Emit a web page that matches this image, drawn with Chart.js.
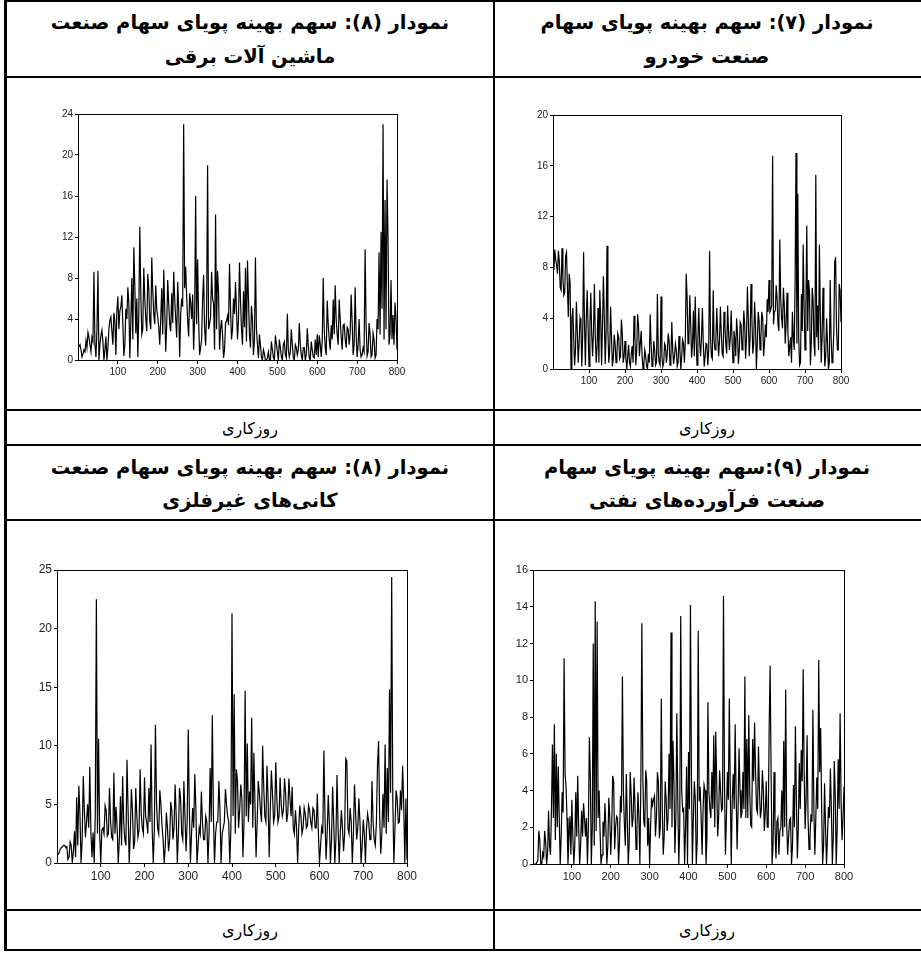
<!DOCTYPE html>
<html>
<head>
<meta charset="utf-8">
<script src="https://cdn.jsdelivr.net/npm/chart.js@4.4.1/dist/chart.umd.min.js"></script>
<style>
  html, body { margin:0; padding:0; background:#fff; }
  #page { position:relative; width:921px; height:956px; overflow:hidden; background:#fff; }
  .hl { position:absolute; left:5px; width:916px; height:2px; background:#000; }
  .vl { position:absolute; width:2px; background:#000; }
  .ttl { position:absolute; direction:rtl; text-align:center; font-family:"DejaVu Sans", sans-serif; font-weight:bold; color:#000; white-space:nowrap; transform:translate(-50%,-50%); }
  .rz { position:absolute; direction:rtl; text-align:center; font-family:"DejaVu Sans", sans-serif; font-size:16px; color:#000; white-space:nowrap; transform:translate(-50%,-50%); }
  canvas { position:absolute; }
</style>
</head>
<body>
<div id="page"></div>
<script>
// ---------------- data ----------------
const titlesTop = ["نمودار (۸): سهم بهینه پویای سهام صنعت", "نمودار (۷): سهم بهینه پویای سهام"];
const subTitlesTop = ["ماشین آلات برقی", "صنعت خودرو"];
const titlesBottom = ["نمودار (۸): سهم بهینه پویای سهام صنعت", "نمودار (۹):سهم بهینه پویای سهام"];
const subTitlesBottom = ["کانی‌های غیرفلزی", "صنعت فرآورده‌های نفتی"];
const axisCaption = "روزکاری";

const xTickLabels = [100, 200, 300, 400, 500, 600, 700, 800];
// working day index of each reading (every 2.5 days, 320 readings)
const days = Array.from({length: 320}, (_, i) => (i + 1) * 2.5);

// ماشین آلات برقی
const seriesMachinery = [
 1.3,1.5, 1.0,0.3, 0.6,1.0, 0.8,1.9, 1.2,2.7, 2.2,1.5, 0.8,2.2, 1.8,8.6, 1.5,0.3, 2.9,8.7,
 0.0,1.5, 2.4,2.9, 1.8,0.0, 1.0,2.3, 0.0,1.2, 3.0,3.9, 4.2,2.8, 1.5,4.6, 3.8,0.5, 4.8,6.2,
 3.0,4.8, 5.2,6.3, 3.5,0.4, 1.5,5.0, 4.0,7.1, 5.5,0.2, 3.9,8.0, 2.0,11.0, 7.3,2.6, 6.0,0.3,
 4.5,13.0, 6.5,2.5, 3.0,9.0, 6.0,4.0, 2.8,8.4, 7.0,3.8, 3.0,10.0, 6.8,4.5, 3.5,7.3, 5.0,4.2,
 3.2,1.5, 4.0,7.0, 2.5,8.8, 5.0,0.8, 3.5,7.8, 5.5,3.5, 2.8,6.5, 3.6,8.6, 6.0,4.0, 2.2,7.6,
 5.0,0.3, 4.5,6.0, 5.2,23.0, 7.0,9.1, 6.2,3.8, 2.3,6.5, 5.6,4.0, 6.4,1.0, 4.2,16.0, 3.5,9.8,
 4.0,0.5, 1.2,2.0, 6.0,8.3, 3.2,1.4, 4.5,19.0, 3.0,3.5, 4.2,8.6, 6.0,5.5, 1.0,14.2, 3.0,8.7,
 6.6,1.0, 3.0,3.9, 2.5,0.2, 1.0,3.6, 3.8,4.3, 3.4,9.4, 5.0,2.0, 3.0,6.0, 4.5,7.6, 4.8,2.0,
 4.0,9.5, 5.8,3.0, 1.5,6.7, 3.2,9.0, 1.8,9.7, 6.0,2.5, 1.2,5.3, 4.0,0.5, 2.0,10.0, 3.0,1.5,
 0.2,2.5, 1.5,0.3, 0.0,1.0, 0.6,0.0, 0.0,0.2, 0.8,0.0, 0.0,1.8, 1.0,0.2, 0.0,2.4, 1.6,0.8,
 0.0,2.0, 1.2,0.3, 0.0,1.5, 1.8,0.5, 0.2,4.5, 1.0,0.3, 0.8,3.0, 1.5,0.2, 0.0,1.5, 1.2,0.5,
 1.0,3.6, 1.5,0.5, 0.0,1.2, 1.2,0.0, 0.5,3.1, 1.4,0.2, 0.0,1.8, 1.0,0.3, 0.2,2.0, 0.5,2.5,
 0.3,2.4, 1.5,0.3, 2.0,8.0, 3.0,1.2, 0.5,5.8, 3.5,2.0, 1.0,3.4, 2.0,5.9, 2.5,7.3, 4.0,2.5,
 1.5,5.9, 4.0,2.3, 1.0,3.4, 3.5,2.0, 1.2,3.2, 3.0,1.5, 2.5,6.4, 3.8,0.5, 1.5,7.1, 2.5,0.3,
 1.5,4.0, 1.0,0.3, 0.5,1.2, 0.8,10.8, 3.5,0.4, 0.8,3.6, 2.5,0.3, 0.5,2.6, 2.0,0.2, 0.5,4.0,
 3.0,10.5, 2.5,12.5, 5.0,23.0, 2.0,15.6, 3.0,17.6, 12.0,1.5, 2.5,7.8, 2.0,4.4, 1.5,5.6, 4.2,1.0
];
// خودرو
const seriesAuto = [
 7.8,9.4, 8.6,8.2, 7.5,9.3, 8.5,6.4, 6.2,9.5, 7.2,5.8, 6.0,8.9, 9.2,6.5, 4.1,7.5, 6.8,0.0,
 3.9,4.8, 2.5,0.3, 1.5,5.3, 3.0,0.5, 2.0,4.0, 3.6,0.2, 2.8,9.2, 3.5,0.3, 4.0,6.2, 3.2,0.2,
 3.5,6.0, 2.8,1.0, 3.0,6.7, 2.6,0.5, 1.8,4.8, 0.5,6.2, 4.0,0.3, 3.5,7.3, 4.1,0.4, 3.0,9.7,
 3.0,0.5, 1.5,4.9, 2.5,0.2, 0.8,2.7, 2.0,0.5, 1.2,2.8, 2.5,0.8, 1.0,3.9, 2.8,0.5, 1.0,2.2,
 0.8,0.0, 1.0,1.9, 0.5,0.2, 1.2,1.8, 0.5,4.2, 2.5,0.3, 1.5,4.3, 3.5,1.0, 2.0,3.0, 1.0,0.0,
 0.5,1.5, 1.0,0.2, 0.0,1.2, 0.5,4.3, 2.0,0.2, 0.5,2.2, 1.5,0.3, 0.5,5.9, 1.2,0.5, 0.3,5.7,
 1.0,0.2, 0.5,2.0, 1.8,0.5, 1.2,2.8, 2.2,0.3, 0.8,3.7, 1.5,0.4, 1.0,2.0, 1.5,0.2, 0.5,2.6,
 1.5,0.0, 1.0,2.3, 2.0,0.5, 2.2,7.5, 5.7,2.0, 2.5,5.8, 3.5,0.9, 2.0,4.6, 1.0,5.7, 2.5,0.3,
 2.5,4.8, 2.0,1.0, 2.5,4.8, 2.0,0.2, 1.0,2.0, 1.9,0.3, 1.5,9.3, 2.5,1.0, 0.8,6.2, 2.2,1.5,
 2.5,4.8, 2.6,1.0, 2.2,4.9, 2.8,1.2, 1.0,4.5, 3.5,2.0, 1.2,5.0, 3.0,1.5, 2.5,4.6, 2.2,0.5,
 3.0,2.5, 1.0,4.0, 2.8,0.4, 1.5,3.7, 3.5,1.5, 2.0,4.6, 3.5,0.8, 2.5,6.5, 4.0,1.0, 2.5,6.7,
 4.0,1.2, 2.0,5.3, 3.5,0.0, 2.0,4.5, 3.8,1.5, 2.5,4.5, 4.0,1.0, 2.0,3.5, 2.5,5.5, 4.5,7.0,
 4.5,4.7, 5.0,16.8, 3.5,4.5, 4.6,6.6, 5.5,3.5, 3.0,10.2, 5.6,4.0, 3.2,6.4, 5.0,2.0, 3.5,6.0,
 3.0,1.0, 1.8,2.5, 0.5,4.5, 2.5,1.5, 6.8,17.0, 2.0,13.8, 2.5,0.3, 0.5,5.9, 3.0,9.8, 5.0,1.5,
 5.0,11.3, 3.0,7.0, 6.0,0.3, 2.0,6.4, 5.5,2.0, 1.0,15.3, 2.5,5.0, 1.5,9.8, 4.5,0.5, 2.5,6.4,
 3.0,0.2, 1.0,4.0, 2.0,0.0, 0.5,7.0, 2.5,0.5, 1.0,2.9, 8.4,8.8, 3.3,1.5, 1.5,6.7, 6.2,3.7
];
// کانی‌های غیرفلزی
const seriesMinerals = [
 0.7,0.9, 1.2,1.3, 1.4,1.5, 1.5,1.3, 1.4,0.3, 0.5,1.8, 1.5,0.0, 1.0,2.7, 0.5,5.6, 1.5,6.6,
 4.1,0.0, 2.0,7.4, 4.5,2.2, 3.5,5.0, 3.0,8.2, 2.6,0.5, 2.6,0.0, 4.2,22.5, 2.5,10.6, 2.6,0.0,
 2.8,3.0, 2.5,4.9, 4.5,2.3, 2.5,6.4, 3.5,2.2, 2.0,7.7, 2.5,4.8, 3.0,0.0, 2.0,5.7, 1.5,7.4,
 3.5,2.0, 1.5,8.8, 4.5,0.0, 2.5,6.3, 4.5,1.2, 1.8,6.4, 4.0,2.2, 2.8,8.0, 4.2,3.0, 2.5,7.3,
 4.0,3.5, 2.5,6.4, 3.5,10.1, 3.0,0.0, 2.8,11.8, 5.1,3.0, 2.5,6.2, 5.0,3.2, 2.0,0.0, 1.5,4.3,
 3.0,1.0, 2.0,5.2, 4.5,2.0, 3.0,6.7, 4.0,0.0, 2.5,6.4, 5.5,2.5, 2.0,7.0, 4.0,1.0, 3.5,11.4,
 4.5,0.0, 2.5,4.7, 3.0,7.6, 4.5,0.0, 1.5,3.0, 2.5,6.1, 3.5,2.0, 2.0,4.0, 3.5,0.0, 2.5,8.1,
 3.5,12.6, 4.0,0.0, 2.5,3.5, 3.5,7.0, 4.5,0.0, 2.5,3.0, 3.5,6.3, 5.0,4.0, 3.5,0.0, 3.0,21.3,
 4.0,14.4, 2.5,8.0, 7.0,3.0, 4.5,6.7, 5.5,0.5, 3.5,14.7, 4.0,10.2, 3.5,6.1, 5.0,12.4, 3.0,9.4,
 5.0,0.5, 3.5,7.0, 6.0,4.5, 3.5,10.0, 6.5,4.0, 3.5,8.3, 5.5,0.5, 4.5,7.9, 6.0,3.5, 4.0,8.6,
 5.5,3.5, 4.0,7.3, 5.0,4.0, 4.5,7.2, 6.0,3.5, 4.2,7.2, 5.5,4.0, 6.5,3.0, 2.5,4.5, 3.0,0.0,
 3.0,4.9, 4.0,2.5, 3.0,4.7, 4.2,3.0, 3.2,4.9, 4.5,3.5, 3.0,4.7, 4.5,3.0, 3.0,5.9, 2.5,0.0,
 1.5,3.0, 2.5,9.6, 4.0,0.3, 2.5,5.8, 3.5,0.0, 2.0,6.5, 3.5,0.0, 2.0,7.5, 3.0,0.0, 2.5,4.5,
 3.0,1.0, 2.5,8.9, 8.7,3.0, 2.5,4.7, 3.5,0.0, 2.5,6.7, 4.3,2.0, 3.0,5.5, 3.5,0.0, 1.5,3.7,
 2.5,0.0, 3.0,4.2, 3.5,2.0, 2.0,7.0, 3.5,2.0, 1.5,3.4, 8.3,10.4, 4.0,0.8, 2.5,5.9, 3.0,10.1,
 2.5,8.1, 3.5,14.8, 6.0,24.4, 5.5,0.0, 3.0,6.2, 5.5,3.4, 3.5,6.2, 4.5,8.3, 5.0,0.0, 5.5,0.3
];
// فرآورده‌های نفتی
const seriesPetro = [
 0.0,0.0, 0.0,0.1, 0.2,1.8, 1.3,0.0, 0.0,0.6, 0.4,1.8, 1.2,0.0, 0.6,2.9, 1.0,0.5, 3.0,6.5,
 2.5,7.6, 1.3,6.0, 2.0,5.3, 2.5,0.0, 1.5,3.9, 2.8,11.2, 4.9,4.2, 2.5,0.0, 1.5,2.6, 0.5,3.5,
 1.5,0.0, 1.0,3.9, 1.5,4.8, 2.0,0.0, 1.0,2.9, 1.5,3.3, 2.5,1.5, 2.5,0.0, 2.0,6.9, 4.7,0.0,
 2.0,12.0, 1.0,14.3, 1.8,13.2, 2.5,4.0, 1.8,0.0, 0.5,2.3, 1.5,3.3, 2.0,0.0, 1.0,3.6, 2.5,0.5,
 2.0,4.8, 4.5,0.8, 2.0,2.6, 2.5,0.0, 1.2,3.7, 2.8,10.2, 4.0,2.2, 1.0,4.9, 2.5,0.0, 1.2,5.0,
 3.8,2.0, 2.5,4.7, 3.0,0.8, 2.0,3.9, 2.5,0.0, 4.6,13.1, 4.8,2.3, 2.0,5.1, 4.5,1.0, 2.5,0.0,
 2.0,3.6, 3.2,3.5, 3.7,1.5, 2.5,5.0, 4.5,1.4, 2.0,9.0, 3.0,0.5, 1.5,4.5, 3.5,1.8, 2.5,6.0,
 3.0,12.6, 2.0,6.7, 4.5,0.6, 2.5,8.2, 3.5,0.0, 2.0,13.5, 4.0,2.9, 3.0,0.0, 2.0,5.3, 0.0,6.1,
 3.0,14.1, 5.0,0.0, 2.5,4.5, 3.5,0.0, 1.3,12.7, 3.4,4.2, 2.5,0.5, 3.0,4.3, 4.0,0.0, 1.5,8.8,
 3.9,3.0, 2.5,5.0, 3.0,7.0, 2.0,7.2, 4.5,1.5, 2.5,5.1, 4.0,2.9, 3.0,14.6, 4.5,0.5, 2.5,5.0,
 3.5,9.0, 4.0,0.0, 3.5,4.9, 3.0,7.6, 3.8,0.8, 3.0,6.3, 4.0,2.5, 2.8,5.0, 3.0,10.2, 2.5,6.8,
 2.5,8.1, 4.0,2.1, 2.0,6.8, 4.5,7.7, 5.0,3.0, 2.8,6.4, 4.0,2.5, 3.0,5.1, 4.0,1.8, 2.8,4.5,
 2.0,2.0, 7.4,10.8, 4.8,0.0, 1.0,5.0, 2.0,0.3, 2.3,2.5, 0.5,1.8, 2.0,4.0, 1.5,6.7, 2.0,9.5,
 2.3,0.5, 1.5,2.4, 2.5,0.0, 1.0,4.3, 2.0,7.5, 3.5,0.3, 2.0,5.5, 3.0,6.2, 4.5,10.6, 5.0,1.9,
 3.5,7.0, 2.5,0.8, 1.5,2.7, 2.3,8.4, 3.0,0.5, 2.5,4.7, 3.0,11.1, 5.0,7.4, 3.0,0.0, 1.0,4.4,
 2.0,0.0, 1.5,3.1, 2.5,5.2, 3.0,0.0, 1.5,5.6, 3.7,0.0, 2.0,5.7, 3.0,8.2, 3.4,1.3, 2.5,4.2
];

const yTicksMachinery = [0, 4, 8, 12, 16, 20, 24];
const yTicksAuto = [0, 4, 8, 12, 16, 20];
const yTicksMinerals = [0, 5, 10, 15, 20, 25];
const yTicksPetro = [0, 2, 4, 6, 8, 10, 12, 14, 16];

// ---------------- table ----------------
const page = document.getElementById('page');
function add(cls, style, text) {
  const d = document.createElement('div');
  d.className = cls;
  Object.assign(d.style, style);
  if (text !== undefined) d.textContent = text;
  page.appendChild(d);
  return d;
}
[1, 77, 410, 445, 520, 910, 950].forEach(y => add('hl', {top: (y - 1) + 'px'}));
add('vl', {left: '4px', top: '0px', height: '951px', width: '3px'});
add('vl', {left: '493px', top: '0px', height: '951px', width: '2px'});

const colCenters = [250, 707];
const ttlSize = '19.5px';
titlesTop.forEach((t, i) => add('ttl', {left: colCenters[i] + 'px', top: '22px', fontSize: ttlSize}, t));
subTitlesTop.forEach((t, i) => add('ttl', {left: colCenters[i] + 'px', top: '56px', fontSize: ttlSize}, t));
titlesBottom.forEach((t, i) => add('ttl', {left: colCenters[i] + 'px', top: '467px', fontSize: ttlSize}, t));
subTitlesBottom.forEach((t, i) => add('ttl', {left: colCenters[i] + 'px', top: '500px', fontSize: ttlSize}, t));
colCenters.forEach(c => add('rz', {left: c + 'px', top: '428px'}, axisCaption));
colCenters.forEach(c => add('rz', {left: c + 'px', top: '930px'}, axisCaption));

// ---------------- charts ----------------
const frame = {
  id: 'frame',
  afterDatasetsDraw(chart) {
    const a = chart.chartArea, ctx = chart.ctx;
    ctx.save();
    ctx.strokeStyle = '#000';
    ctx.lineWidth = 1;
    ctx.strokeRect(Math.round(a.left) + 0.5, Math.round(a.top) + 0.5, Math.round(a.right - a.left), Math.round(a.bottom - a.top));
    ctx.restore();
  }
};

const PADL = 40, PADT = 12, PADR = 24, PADB = 30;
function makeChart(rect, values, yTicks, fontSize) {
  const [L, T, R, B] = rect;
  const c = document.createElement('canvas');
  const w = (R - L) + PADL + PADR, h = (B - T) + PADT + PADB;
  c.width = w; c.height = h;
  c.style.left = (L - PADL) + 'px';
  c.style.top = (T - PADT) + 'px';
  c.style.width = w + 'px';
  c.style.height = h + 'px';
  page.appendChild(c);
  const font = {family: '"Liberation Sans Narrow", "Liberation Sans", Arial, sans-serif', size: fontSize};
  return new Chart(c, {
    type: 'line',
    data: {
      datasets: [{
        data: days.map((d, i) => ({x: d, y: values[i]})),
        borderColor: '#000',
        borderWidth: 1.2,
        pointRadius: 0,
        tension: 0,
        fill: false
      }]
    },
    options: {
      responsive: false,
      animation: false,
      devicePixelRatio: 1,
      layout: {padding: {left: 0, top: PADT, right: PADR, bottom: 0}},
      plugins: {legend: {display: false}, tooltip: {enabled: false}},
      scales: {
        x: {
          type: 'linear', min: 0, max: 800,
          afterBuildTicks: s => { s.ticks = xTickLabels.map(v => ({value: v})); },
          afterFit: s => { s.height = PADB; },
          grid: {display: true, drawOnChartArea: false, drawTicks: true, tickLength: 4, color: '#000'},
          border: {display: true, color: '#000', width: 1},
          ticks: {color: '#222', font, padding: 2, maxRotation: 0, autoSkip: false}
        },
        y: {
          type: 'linear', min: yTicks[0], max: yTicks[yTicks.length - 1],
          afterBuildTicks: s => { s.ticks = yTicks.map(v => ({value: v})); },
          afterFit: s => { s.width = PADL; },
          grid: {display: true, drawOnChartArea: false, drawTicks: true, tickLength: 3, color: '#000'},
          border: {display: true, color: '#000', width: 1},
          ticks: {color: '#222', font, padding: 2, autoSkip: false}
        }
      }
    },
    plugins: [frame]
  });
}

makeChart([78, 114, 397, 360], seriesMachinery, yTicksMachinery, 10);
makeChart([553, 115, 841, 369], seriesAuto, yTicksAuto, 10);
makeChart([57, 570, 407, 863], seriesMinerals, yTicksMinerals, 12);
makeChart([533, 570, 844, 864], seriesPetro, yTicksPetro, 11);
</script>
</body>
</html>
